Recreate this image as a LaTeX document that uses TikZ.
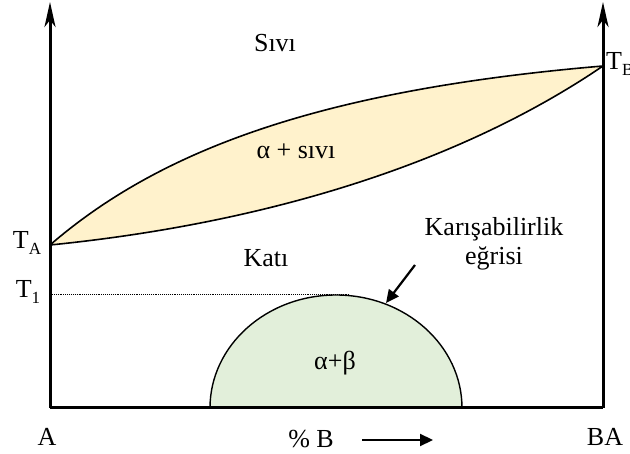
\documentclass[tikz,border=0pt]{standalone}
\usepackage{fontspec}
\setmainfont{Liberation Serif}
\usetikzlibrary{arrows.meta}
\definecolor{liqfill}{HTML}{FFF2CC}
\definecolor{domefill}{HTML}{E2EFDA}
\newcommand{\lowsub}[1]{\raisebox{-0.22em}{\fontsize{17}{17}\selectfont #1}}

\begin{document}
\begin{tikzpicture}[x=1pt,y=-1pt,
  every node/.style={font=\fontsize{26}{29}\selectfont,inner sep=0pt},
  ax/.style={line width=3pt,-{Stealth[length=25pt,width=11pt,inset=7pt]}},
  curve/.style={line width=1.6pt,line join=round},
  pointer/.style={line width=2.2pt,-{Triangle[length=13pt,width=12pt]}}]
\useasboundingbox (0,0) rectangle (630,454);
% frame points
\coordinate (A) at (50,408);
\coordinate (Atop) at (50,2);
\coordinate (B) at (603,408);
\coordinate (Btop) at (603,2);
\coordinate (TA) at (50,245);
\coordinate (TB) at (603,66);
% alpha + liquid lens
\draw[curve,fill=liqfill] (TA) .. controls (160,150) and (320,90) .. (TB)
  .. controls (450,170) and (250,225) .. (TA) -- cycle;
% miscibility dome
\draw[line width=1.4pt,fill=domefill] (210,408) arc[start angle=180,end angle=360,x radius=126,y radius=113];
\coordinate (T1end) at (350,294);
\coordinate (T1start) at (50,294);
\draw[densely dotted,line width=0.9pt] (T1start) -- (T1end);
% axes
\draw[line width=3pt] (A) -- (B);
\draw[ax] (A) -- (Atop);
\draw[ax] (B) -- (Btop);
% labels
\node (siv) at (275,43) {Sıvı};
\node (lens) at (296,151) {α + sıvı};
\node (kat) at (266,258) {Katı};
\node (ab) at (335,363) {α+β};
\node (ta) at (27,243) {T\lowsub{A}};
\node (t1) at (28,292) {T\lowsub{1}};
\node[anchor=west] (tb) at (606,64) {T\lowsub{B}};
\node[align=center] (kar) at (494,244) {Karışabilirlik\\eğrisi};
\node (la) at (47,437) {A};
\node (lba) at (605,437) {BA};
\node (pb) at (311,439) {\% B};
% pointers
\coordinate (karfrom) at (415,265);
\coordinate (karto) at (386,303);
\draw[pointer] (karfrom) -- (karto);
\coordinate (dirfrom) at (362,440);
\coordinate (dirto) at (433,440);
\draw[pointer] (dirfrom) -- (dirto);
\end{tikzpicture}
\end{document}
